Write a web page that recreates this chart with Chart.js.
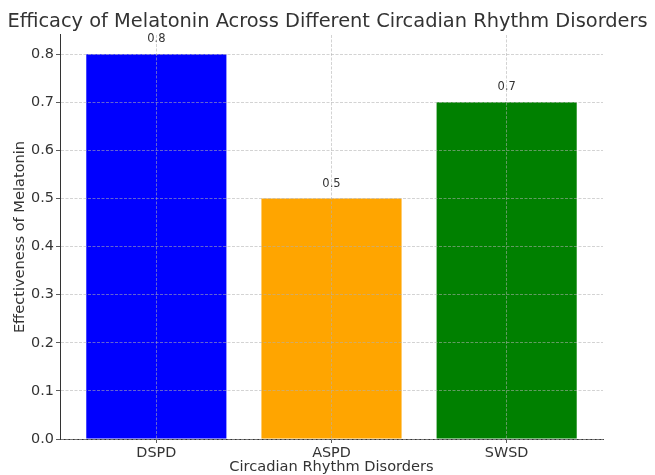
<!DOCTYPE html>
<html>
<head>
<meta charset="utf-8">
<script src="https://cdn.jsdelivr.net/npm/chart.js@4/dist/chart.umd.min.js"></script>
<style>
  html, body { margin: 0; padding: 0; background: #fff; }
  #wrap { width: 655px; height: 475px; }
</style>
</head>
<body>
<div id="wrap"><canvas id="chart"></canvas></div>
<script>
// ===================== DATOS =====================
const categories = ["DSPD", "ASPD", "SWSD"];
const efficacy = [0.8, 0.5, 0.7];
const barColors = ["#0000ff", "#ffa500", "#008000"];
const yTicks = [0, 0.1, 0.2, 0.3, 0.4, 0.5, 0.6, 0.7, 0.8];

const FONT = "'DejaVu Sans', sans-serif";
const TEXT = "#333333";
const GRID = "rgba(176,176,176,0.7)";

// ===================== ETIQUETAS DE VALOR =====================
const valueLabels = {
  id: "valueLabels",
  afterDatasetsDraw(chart) {
    const ctx = chart.ctx;
    const meta = chart.getDatasetMeta(0);
    ctx.save();
    ctx.font = "11.5px " + FONT;
    ctx.fillStyle = TEXT;
    ctx.textAlign = "center";
    ctx.textBaseline = "alphabetic";
    meta.data.forEach((bar, i) => {
      ctx.fillText(String(efficacy[i]), bar.x, bar.y - 12);
    });
    ctx.restore();
  },
};

// ===================== CHART =====================
new Chart(document.getElementById("chart"), {
  type: "bar",
  data: {
    datasets: [
      {
        data: categories.map((c, i) => ({ x: i, y: efficacy[i] })),
        backgroundColor: barColors,
        borderWidth: 0,
        barPercentage: 1,
        categoryPercentage: 0.8,
      },
    ],
  },
  options: {
    responsive: true,
    maintainAspectRatio: false,
    animation: false,
    layout: { padding: 0 },
    plugins: {
      legend: { display: false },
      tooltip: { enabled: false },
      title: {
        display: true,
        text: "Efficacy of Melatonin Across Different Circadian Rhythm Disorders",
        color: TEXT,
        font: { family: FONT, size: 19.4, weight: "normal", lineHeight: 1.2 },
        padding: { top: 10, bottom: 1.7 },
      },
    },
    scales: {
      x: {
        type: "linear",
        min: -0.55,
        max: 2.55,
        offset: false,
        afterBuildTicks: (s) => {
          s.ticks = categories.map((c, i) => ({ value: i }));
        },
        afterFit: (s) => {
          s.height = 36;
        },
        ticks: {
          color: TEXT,
          font: { family: FONT, size: 14.4 },
          padding: 2,
          maxRotation: 0,
          autoSkip: false,
          callback: (v) => categories[v],
        },
        grid: {
          z: 1,
          offset: false,
          color: GRID,
          lineWidth: 0.8,
          tickColor: TEXT,
          tickLength: 4,
          tickBorderDash: [],
        },
        border: { z: 1, color: TEXT, width: 1, dash: [3, 1.5] },
        title: {
          display: true,
          text: "Circadian Rhythm Disorders",
          color: TEXT,
          font: { family: FONT, size: 14.6, lineHeight: 1.0 },
          padding: { top: 0, bottom: 0 },
        },
      },
      y: {
        min: 0,
        max: 0.84,
        afterBuildTicks: (s) => {
          s.ticks = yTicks.map((v) => ({ value: v }));
        },
        afterFit: (s) => {
          s.width = 60;
        },
        ticks: {
          color: TEXT,
          font: { family: FONT, size: 14.4 },
          padding: 2,
          callback: (v) => Number(v).toFixed(1),
        },
        grid: {
          z: 1,
          color: GRID,
          lineWidth: 0.8,
          tickColor: TEXT,
          tickLength: 4,
          tickBorderDash: [],
        },
        border: { z: 1, color: TEXT, width: 1, dash: [3, 1.5] },
        title: {
          display: true,
          text: "Effectiveness of Melatonin",
          color: TEXT,
          font: { family: FONT, size: 14.6, lineHeight: 1.2 },
          padding: { top: 11.5, bottom: 0 },
        },
      },
      // eje vacío a la derecha, solo reserva el margen
      yRight: {
        position: "right",
        display: true,
        afterFit: (s) => {
          s.width = 52;
        },
        ticks: { display: false },
        grid: { display: false },
        border: { display: false },
      },
    },
  },
  plugins: [valueLabels],
});
</script>
</body>
</html>
